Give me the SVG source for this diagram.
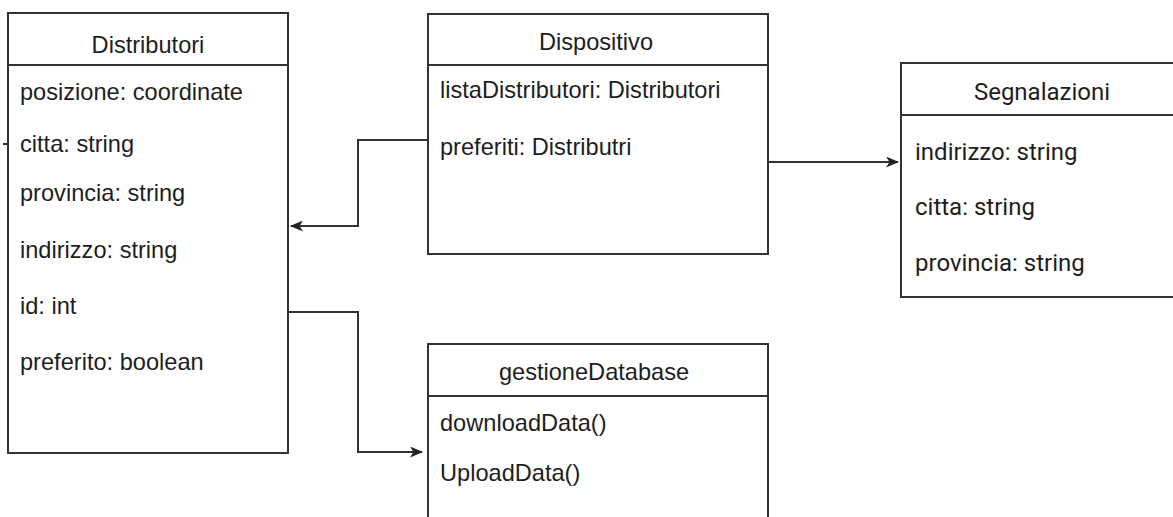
<svg xmlns="http://www.w3.org/2000/svg" width="1173" height="517" viewBox="0 0 1173 517">
<defs>
<style>
.box{fill:#fff;stroke:#333;stroke-width:2}
.div{stroke:#333;stroke-width:2}
.t{font-family:"Liberation Sans",Arial,sans-serif;font-size:23.6px;fill:#1e1e1e}
.r{font-family:Roboto,"Liberation Sans",sans-serif;font-size:24px;fill:#1e1e1e}
.c{text-anchor:middle}
.edge{fill:none;stroke:#333;stroke-width:2}
</style>
<marker id="arr" viewBox="0 0 13 11" refX="12" refY="5.5" markerWidth="13" markerHeight="11" markerUnits="userSpaceOnUse" orient="auto">
<path d="M0,0 L13,5.5 L0,11 L3.5,5.5 Z" fill="#222"/>
</marker>
</defs>
<rect width="1173" height="517" fill="#fff"/>
<g id="connectors">
<path class="edge" d="M428,140 H358 V226 H291" marker-end="url(#arr)"/>
<path class="edge" d="M768,162 H898" marker-end="url(#arr)"/>
<path class="edge" d="M289,312 H358 V452 H422" marker-end="url(#arr)"/>
<path class="edge" d="M3,144 H8"/>
</g>
<g id="distributori">
<rect class="box" x="8" y="13" width="280" height="440"/>
<line class="div" x1="8" y1="65" x2="288" y2="65"/>
<text class="t c" x="148" y="53">Distributori</text>
<text class="t" x="20" y="100">posizione: coordinate</text>
<text class="t" x="20" y="152">citta: string</text>
<text class="t" x="20" y="201">provincia: string</text>
<text class="t" x="20" y="258">indirizzo: string</text>
<text class="t" x="20" y="314">id: int</text>
<text class="t" x="20" y="370">preferito: boolean</text>
</g>
<g id="dispositivo">
<rect class="box" x="428" y="14" width="340" height="240"/>
<line class="div" x1="428" y1="65" x2="768" y2="65"/>
<text class="t c" x="596" y="50">Dispositivo</text>
<text class="t" x="440" y="98">listaDistributori: Distributori</text>
<text class="t" x="440" y="155">preferiti: Distributri</text>
</g>
<g id="segnalazioni">
<rect class="box" x="901" y="63" width="290" height="234"/>
<line class="div" x1="901" y1="115" x2="1191" y2="115"/>
<text class="r c" x="1042" y="100">Segnalazioni</text>
<text class="r" x="915" y="160">indirizzo: string</text>
<text class="r" x="915" y="215">citta: string</text>
<text class="r" x="915" y="271">provincia: string</text>
</g>
<g id="gestioneDatabase">
<rect class="box" x="428" y="344" width="340" height="200"/>
<line class="div" x1="428" y1="396" x2="768" y2="396"/>
<text class="t c" x="594" y="380">gestioneDatabase</text>
<text class="t" x="440" y="431">downloadData()</text>
<text class="t" x="440" y="481">UploadData()</text>
</g>
</svg>
